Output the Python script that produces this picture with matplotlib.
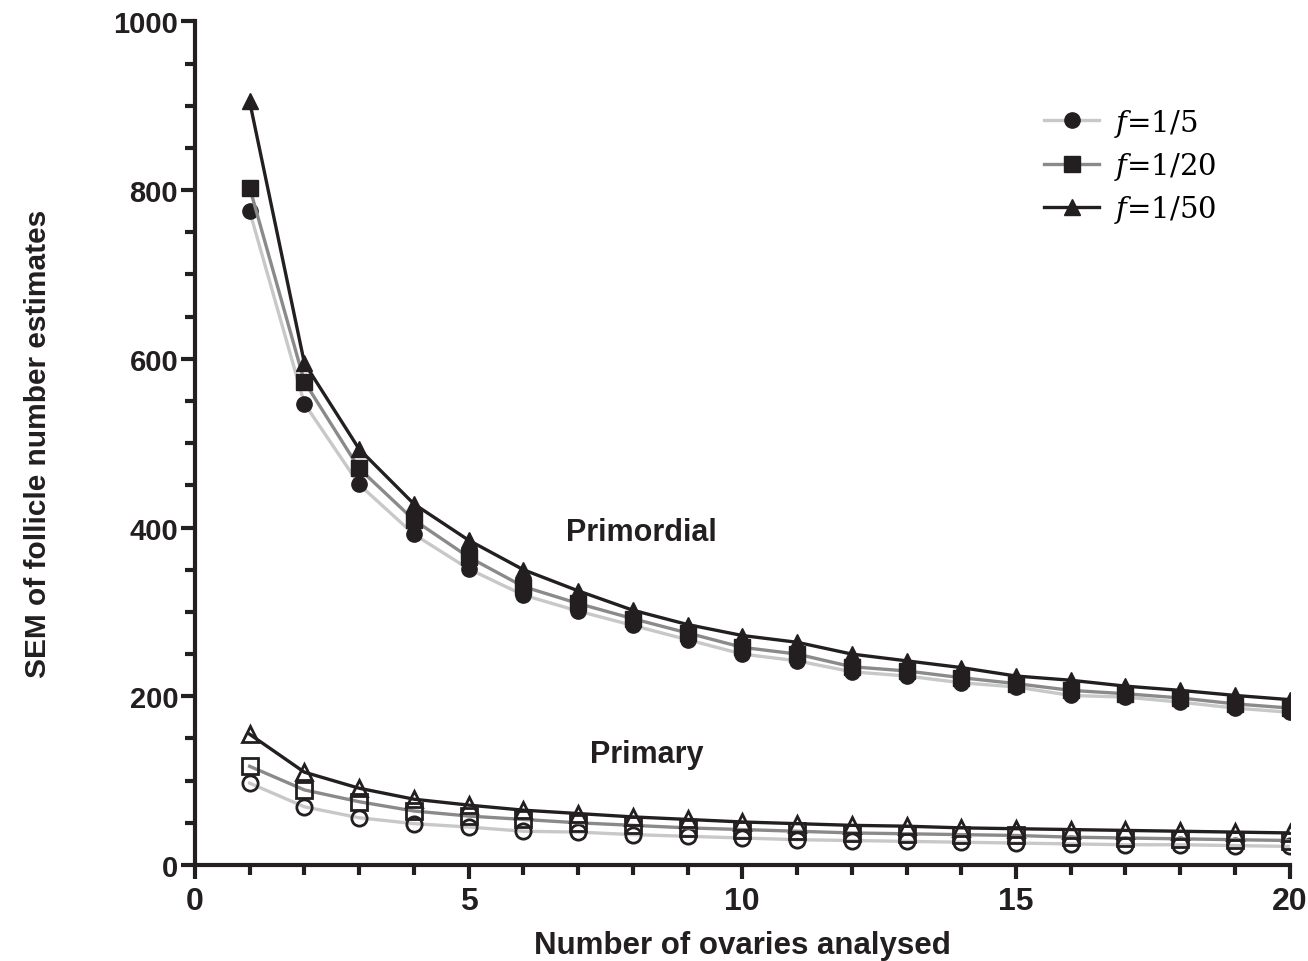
import numpy as np
import matplotlib.pyplot as plt
from matplotlib.ticker import MultipleLocator

plt.rcParams['mathtext.fontset'] = 'custom'
plt.rcParams['mathtext.it'] = 'DejaVu Serif:italic'
plt.rcParams['mathtext.rm'] = 'DejaVu Serif'

n_ovaries = np.arange(1, 21)

# Primordial follicles (filled markers)
prim_f5 = [775, 547, 451, 392, 351, 320, 301, 284, 267, 250,
           242, 229, 224, 216, 211, 201, 199, 193, 186, 181]
prim_f20 = [803, 573, 470, 409, 365, 330, 310, 292, 275, 258,
            250, 235, 230, 222, 215, 207, 203, 198, 191, 186]
prim_f50 = [905, 595, 493, 428, 385, 350, 325, 302, 285, 272,
            264, 250, 242, 234, 224, 219, 212, 207, 201, 196]

# Primary follicles (open markers)
pri_f5 = [97, 69, 56, 49, 45, 40, 39, 36, 34, 32,
          30, 29, 28, 27, 26, 25, 24, 24, 23, 22]
pri_f20 = [117, 89, 75, 64, 58, 54, 50, 47, 44, 42,
           40, 38, 37, 36, 35, 33, 32, 31, 30, 29]
pri_f50 = [155, 110, 91, 78, 71, 65, 61, 57, 54, 51,
           49, 47, 46, 44, 43, 42, 41, 40, 39, 38]

labels = [r'$f$=1/5', r'$f$=1/20', r'$f$=1/50']
line_colors = ['#c8c8c8', '#8a8a8a', '#231f20']
markers = ['o', 's', '^']
ink = '#231f20'
sans = 'Liberation Sans'

fig = plt.figure(figsize=(13.08, 9.62), dpi=100)
ax = fig.add_axes([0.149, 0.0998, 0.837, 0.877])

for ys, lab, col, m in zip([prim_f5, prim_f20, prim_f50], labels, line_colors, markers):
    ax.plot(n_ovaries, ys, color=col, lw=2.4, marker=m, markersize=11,
            markerfacecolor=ink, markeredgecolor=ink, label=lab, zorder=3)

for ys, col, m in zip([pri_f5, pri_f20, pri_f50], line_colors, markers):
    ax.plot(n_ovaries, ys, color=col, lw=2.4, marker=m, markersize=11,
            fillstyle='none', markeredgecolor=ink, markeredgewidth=2.0, zorder=3)

ax.text(8.15, 395, 'Primordial', fontsize=22, fontweight='bold', color=ink,
        family=sans, ha='center', va='center')
ax.text(8.25, 132, 'Primary', fontsize=22, fontweight='bold', color=ink,
        family=sans, ha='center', va='center')

ax.set_xlim(0, 20)
ax.set_ylim(0, 1000)
ax.xaxis.set_major_locator(MultipleLocator(5))
ax.xaxis.set_minor_locator(MultipleLocator(1))
ax.yaxis.set_major_locator(MultipleLocator(200))
ax.yaxis.set_minor_locator(MultipleLocator(50))

for s in ['top', 'right']:
    ax.spines[s].set_visible(False)
for s in ['left', 'bottom']:
    ax.spines[s].set_linewidth(3)
    ax.spines[s].set_color(ink)
    ax.spines[s].set_capstyle('projecting')

ax.tick_params(which='major', length=10, width=3, color=ink, direction='out')
ax.tick_params(which='minor', length=7, width=3, color=ink, direction='out')
for lbl in ax.get_xticklabels():
    lbl.set_family(sans)
    lbl.set_fontweight('bold')
    lbl.set_fontsize(23)
    lbl.set_color(ink)
for lbl in ax.get_yticklabels():
    lbl.set_family(sans)
    lbl.set_fontweight('bold')
    lbl.set_fontsize(21)
    lbl.set_color(ink)
ax.tick_params(axis='y', pad=2)
ax.tick_params(axis='x', pad=5)

ax.set_xlabel('Number of ovaries analysed', fontsize=22.5, fontweight='bold',
              family=sans, color=ink, labelpad=10)
ax.set_ylabel('SEM of follicle number estimates', fontsize=21.5, fontweight='bold',
              family=sans, color=ink, labelpad=44)

leg = ax.legend(loc='upper right', bbox_to_anchor=(0.957, 0.93), frameon=False,
                prop={'family': 'DejaVu Serif', 'size': 21},
                handlelength=1.9, labelspacing=0.38, handletextpad=0.5)

fig.savefig('out.png', dpi=100)
